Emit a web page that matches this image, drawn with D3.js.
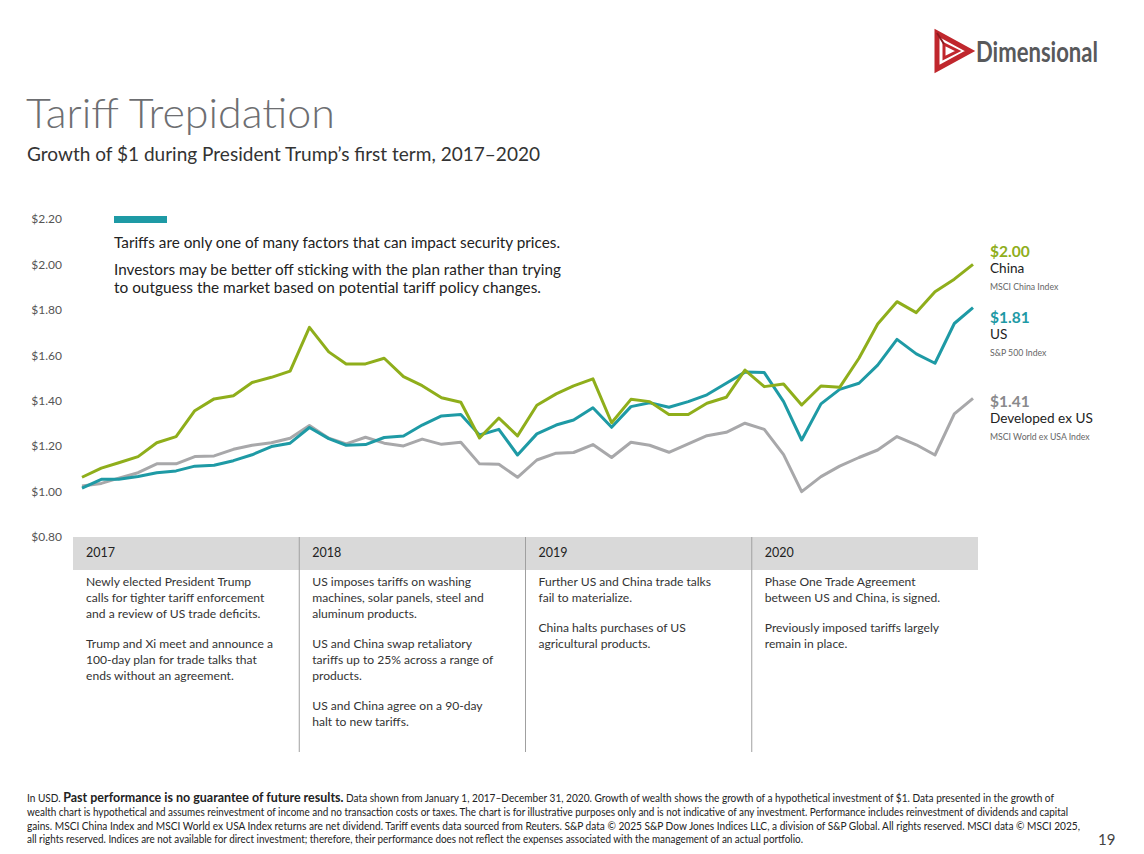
<!DOCTYPE html>
<html><head><meta charset="utf-8">
<script src="https://cdn.jsdelivr.net/npm/d3@7"></script>
<style>
html,body{margin:0;padding:0;background:#fff;}
svg{display:block;}
text{font-family:Lato,"Noto Sans",sans-serif;}
</style></head>
<body>
<svg id="chart" width="1144" height="854"></svg>
<script>
// ---------- DATA ----------
const china = [1.063,1.103,1.127,1.154,1.215,1.242,1.356,1.408,1.422,1.480,1.503,1.530,
  1.723,1.615,1.562,1.562,1.587,1.506,1.466,1.413,1.393,1.236,1.324,1.245,
  1.380,1.430,1.465,1.496,1.303,1.406,1.396,1.339,1.339,1.389,1.415,1.535,
  1.462,1.474,1.381,1.465,1.459,1.587,1.738,1.836,1.788,1.880,1.935,2.00];
const us = [1.015,1.054,1.054,1.066,1.083,1.091,1.112,1.116,1.136,1.162,1.198,1.213,
  1.282,1.233,1.204,1.207,1.238,1.245,1.293,1.333,1.339,1.249,1.274,1.161,
  1.254,1.293,1.315,1.369,1.283,1.374,1.391,1.371,1.396,1.426,1.477,1.526,
  1.524,1.396,1.227,1.386,1.450,1.477,1.557,1.670,1.606,1.565,1.740,1.81];
const devExUS = [1.025,1.036,1.059,1.083,1.122,1.122,1.154,1.157,1.186,1.204,1.215,1.235,
  1.291,1.235,1.210,1.239,1.213,1.201,1.231,1.208,1.217,1.122,1.120,1.063,
  1.139,1.169,1.172,1.207,1.150,1.217,1.204,1.173,1.210,1.246,1.261,1.301,
  1.274,1.163,1.000,1.066,1.112,1.150,1.183,1.242,1.206,1.161,1.342,1.41];
const months = d3.timeMonth.range(new Date(2017,0,1), new Date(2021,0,1));
const yTicks = [0.8,1.0,1.2,1.4,1.6,1.8,2.0,2.2];
const years = ["2017","2018","2019","2020"];
const events = [
  [["Newly elected President Trump","calls for tighter tariff enforcement","and a review of US trade deficits."],
   ["Trump and Xi meet and announce a","100-day plan for trade talks that","ends without an agreement."]],
  [["US imposes tariffs on washing","machines, solar panels, steel and","aluminum products."],
   ["US and China swap retaliatory","tariffs up to 25% across a range of","products."],
   ["US and China agree on a 90-day","halt to new tariffs."]],
  [["Further US and China trade talks","fail to materialize."],
   ["China halts purchases of US","agricultural products."]],
  [["Phase One Trade Agreement","between US and China, is signed."],
   ["Previously imposed tariffs largely","remain in place."]]
];
const seriesInfo = [
  {name:"China", index:"MSCI China Index", values:china, color:"#8fae1b", label:"$2.00"},
  {name:"US", index:"S&P 500 Index", values:us, color:"#1e9aa5", label:"$1.81"},
  {name:"Developed ex US", index:"MSCI World ex USA Index", values:devExUS, color:"#a8a8aa", label:"$1.41", labelColor:"#8a8a8c"}
];

// ---------- DRAW ----------
const svg = d3.select("#chart");

// Logo
const logo = svg.append("g");
logo.append("path").attr("d","M937,33 L970,51 L937,69 Z").attr("fill","none").attr("stroke","#c0272d").attr("stroke-width",5).attr("stroke-linejoin","miter");
logo.append("path").attr("d","M944,44 L958,51 L944,58 Z").attr("fill","none").attr("stroke","#c0272d").attr("stroke-width",3);
logo.append("path").attr("d","M937,33 L944,44").attr("stroke","#8e1b20").attr("stroke-width",2);
logo.append("text").attr("x",976).attr("y",62).attr("font-family","'Liberation Sans Narrow','DejaVu Sans Condensed',sans-serif")
  .attr("font-size",29).attr("font-weight",700).attr("fill","#58595b").attr("textLength",122).attr("lengthAdjust","spacingAndGlyphs").text("Dimensional");

// Titles
svg.append("text").attr("x",26).attr("y",128).attr("font-size",42).attr("font-weight",300).attr("fill","#6d6e71")
  .attr("textLength",309).attr("lengthAdjust","spacingAndGlyphs").text("Tariff Trepidation");
svg.append("text").attr("x",27).attr("y",161).attr("font-size",19).attr("fill","#333")
  .attr("textLength",513).attr("lengthAdjust","spacingAndGlyphs").text("Growth of $1 during President Trump\u2019s first term, 2017\u20132020");

// Scales
const x = d3.scaleTime().domain([months[0], months[months.length-1]]).range([82,973]);
const y = d3.scaleLinear().domain([0.8,2.2]).range([537,219]);

// Y axis
const yAxis = svg.append("g").attr("transform","translate(62,0)")
  .call(d3.axisLeft(y).tickValues(yTicks).tickFormat(d3.format("$.2f")).tickSize(0).tickPadding(0));
yAxis.select(".domain").remove();
yAxis.selectAll("text").attr("font-family","Lato,'Noto Sans',sans-serif").attr("font-size",12).attr("fill","#555");

// Table header band
const colX = d3.scaleBand().domain(years).range([73,978]);
svg.append("rect").attr("x",73).attr("y",537).attr("width",905).attr("height",33).attr("fill","#d9d9d9");
years.forEach((yr,i)=>{
  svg.append("text").attr("x",colX(yr)+13).attr("y",557).attr("font-size",12.5).attr("fill","#222").text(yr);
  if(i>0) svg.append("line").attr("x1",colX(yr)).attr("x2",colX(yr)).attr("y1",537).attr("y2",752).attr("stroke","#a0a0a0").attr("stroke-width",1);
  let ly = 586;
  events[i].forEach(par=>{
    par.forEach(line=>{
      svg.append("text").attr("x",colX(yr)+13).attr("y",ly).attr("font-size",12.1).attr("fill","#333").text(line);
      ly += 16;
    });
    ly += 14;
  });
});

// Callout
svg.append("rect").attr("x",114).attr("y",216).attr("width",53).attr("height",7).attr("fill","#1e9aa5");
const callout = [
  ["Tariffs are only one of many factors that can impact security prices.",248,446],
  ["Investors may be better off sticking with the plan rather than trying",275,447],
  ["to outguess the market based on potential tariff policy changes.",293,427]
];
callout.forEach(c=>{
  svg.append("text").attr("x",114).attr("y",c[1]).attr("font-size",15.3).attr("fill","#222")
    .attr("textLength",c[2]).attr("lengthAdjust","spacingAndGlyphs").text(c[0]);
});

// Lines (draw gray first, then teal, then green on top)
const line = d3.line().x((d,i)=>x(months[i])).y(d=>y(d));
[seriesInfo[2], seriesInfo[1], seriesInfo[0]].forEach(s=>{
  svg.append("path").datum(s.values).attr("d",line).attr("fill","none")
    .attr("stroke",s.color).attr("stroke-width",3).attr("stroke-linejoin","round");
});

// Right labels
const labelY = [257, 323, 407];
seriesInfo.forEach((s,i)=>{
  const ly = labelY[i];
  svg.append("text").attr("x",990).attr("y",ly).attr("font-size",15.5).attr("font-weight",700).attr("fill",s.labelColor||s.color).text(s.label);
  svg.append("text").attr("x",990).attr("y",ly+16).attr("font-size",13.6).attr("fill","#222").text(s.name);
  svg.append("text").attr("x",990).attr("y",ly+33).attr("font-size",8.7).attr("fill","#666").text(s.index);
});

// Footnote
const fn = svg.append("g").attr("font-family","'Liberation Sans Narrow','DejaVu Sans Condensed',sans-serif").attr("fill","#222");
const f1 = fn.append("text").attr("x",27).attr("y",802).attr("font-size",10.5).attr("font-family","'Liberation Sans Narrow','DejaVu Sans Condensed',sans-serif").attr("textLength",1027).attr("lengthAdjust","spacingAndGlyphs");
f1.append("tspan").text("In USD. ");
f1.append("tspan").attr("font-size",13).attr("font-weight",700).text("Past performance is no guarantee of future results.");
f1.append("tspan").text(" Data shown from January 1, 2017\u2013December 31, 2020. Growth of wealth shows the growth of a hypothetical investment of $1. Data presented in the growth of");
const fl = [
  ["wealth chart is hypothetical and assumes reinvestment of income and no transaction costs or taxes. The chart is for illustrative purposes only and is not indicative of any investment. Performance includes reinvestment of dividends and capital",1041],
  ["gains. MSCI China Index and MSCI World ex USA Index returns are net dividend. Tariff events data sourced from Reuters. S&P data \u00a9 2025 S&P Dow Jones Indices LLC, a division of S&P Global. All rights reserved. MSCI data \u00a9 MSCI 2025,",1053],
  ["all rights reserved. Indices are not available for direct investment; therefore, their performance does not reflect the expenses associated with the management of an actual portfolio.",776]
];
fl.forEach((d,i)=>{
  fn.append("text").attr("x",27).attr("y",816+i*13.5).attr("font-size",10.5).attr("textLength",d[1]).attr("lengthAdjust","spacingAndGlyphs").text(d[0]);
});
svg.append("text").attr("x",1098).attr("y",845).attr("font-size",15).attr("font-family","'Liberation Sans','Noto Sans',sans-serif").attr("fill","#444").text("19");
</script>
</body></html>
